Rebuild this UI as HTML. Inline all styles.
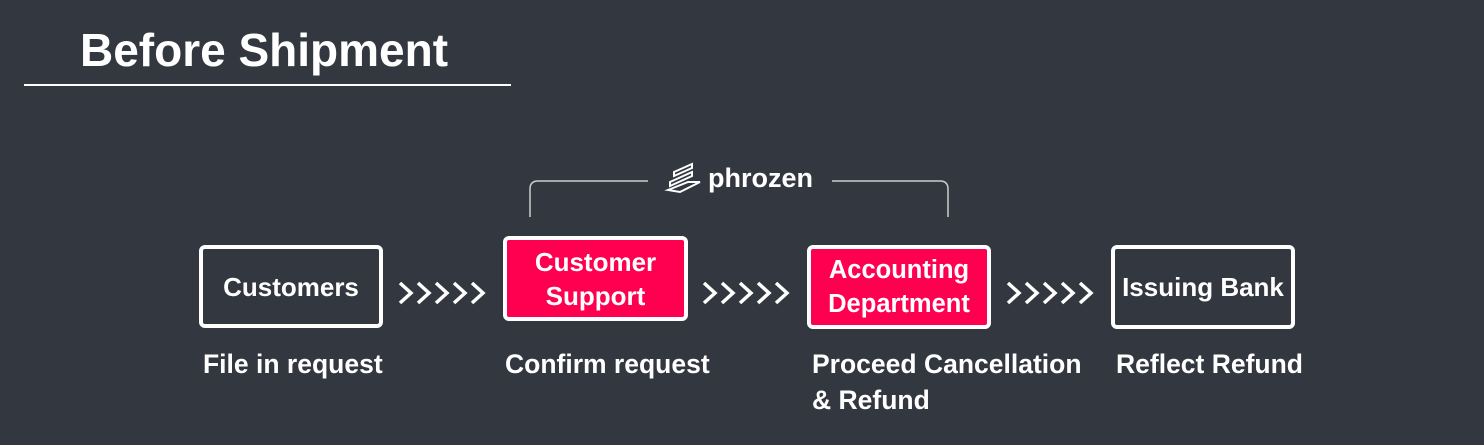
<!DOCTYPE html>
<html><head><style>
body{margin:0;width:1484px;height:445px;background:#333840;position:relative;overflow:hidden;font-family:"Liberation Sans",sans-serif;color:#fff;font-weight:bold}
.a{position:absolute}
.box{position:absolute;border:4px solid #fff;border-radius:6px;box-sizing:border-box;display:flex;align-items:center;justify-content:center;text-align:center;font-size:25px;line-height:34px}
.p{background:#ff0050}
.lbl{position:absolute;font-size:26.5px;line-height:36px;white-space:nowrap}
</style></head><body>
<div class="a" style="left:80px;top:21px;font-size:46px;line-height:58px">Before Shipment</div>
<div class="a" style="left:24px;top:84px;width:487px;height:2px;background:#fff"></div>
<svg class="a" style="left:0;top:0" width="1484" height="445">
<path d="M530 217 V189 Q530 181 538 181 H648 M832 181 H940 Q948 181 948 189 V217" fill="none" stroke="#ccc" stroke-width="1.5"/>
<g fill="none" stroke="#fff" stroke-width="2">
<path d="M674 172 L692 164 L692 168 L674 176 Z M670 182 L692 172 L692 176 L670 186 Z M668 190 L688 182 L700 182 L680 192 Z"/>
</g>
<g fill="none" stroke="#fff" stroke-width="3.5">
<path d="M400 283 l11 10 l-11 10 M418 283 l11 10 l-11 10 M436 283 l11 10 l-11 10 M454 283 l11 10 l-11 10 M472 283 l11 10 l-11 10"/>
<path d="M704 283 l11 10 l-11 10 M722 283 l11 10 l-11 10 M740 283 l11 10 l-11 10 M758 283 l11 10 l-11 10 M776 283 l11 10 l-11 10"/>
<path d="M1008 283 l11 10 l-11 10 M1026 283 l11 10 l-11 10 M1044 283 l11 10 l-11 10 M1062 283 l11 10 l-11 10 M1080 283 l11 10 l-11 10"/>
</g>
</svg>
<div class="a" style="left:708px;top:160px;font-size:27px;line-height:36px">phrozen</div>
<div class="box" style="left:199px;top:245px;width:184px;height:83px;font-size:26px">Customers</div>
<div class="box p" style="left:503px;top:236px;width:185px;height:85px;font-size:26px">Customer<br>Support</div>
<div class="box p" style="left:807px;top:245px;width:184px;height:84px;font-size:25.5px">Accounting<br>Department</div>
<div class="box" style="left:1111px;top:245px;width:184px;height:84px;font-size:26px">Issuing Bank</div>
<div class="lbl" style="left:203px;top:346px">File in request</div>
<div class="lbl" style="left:505px;top:346px">Confirm request</div>
<div class="lbl" style="left:812px;top:346px">Proceed Cancellation<br>&amp; Refund</div>
<div class="lbl" style="left:1116px;top:346px">Reflect Refund</div>
</body></html>
